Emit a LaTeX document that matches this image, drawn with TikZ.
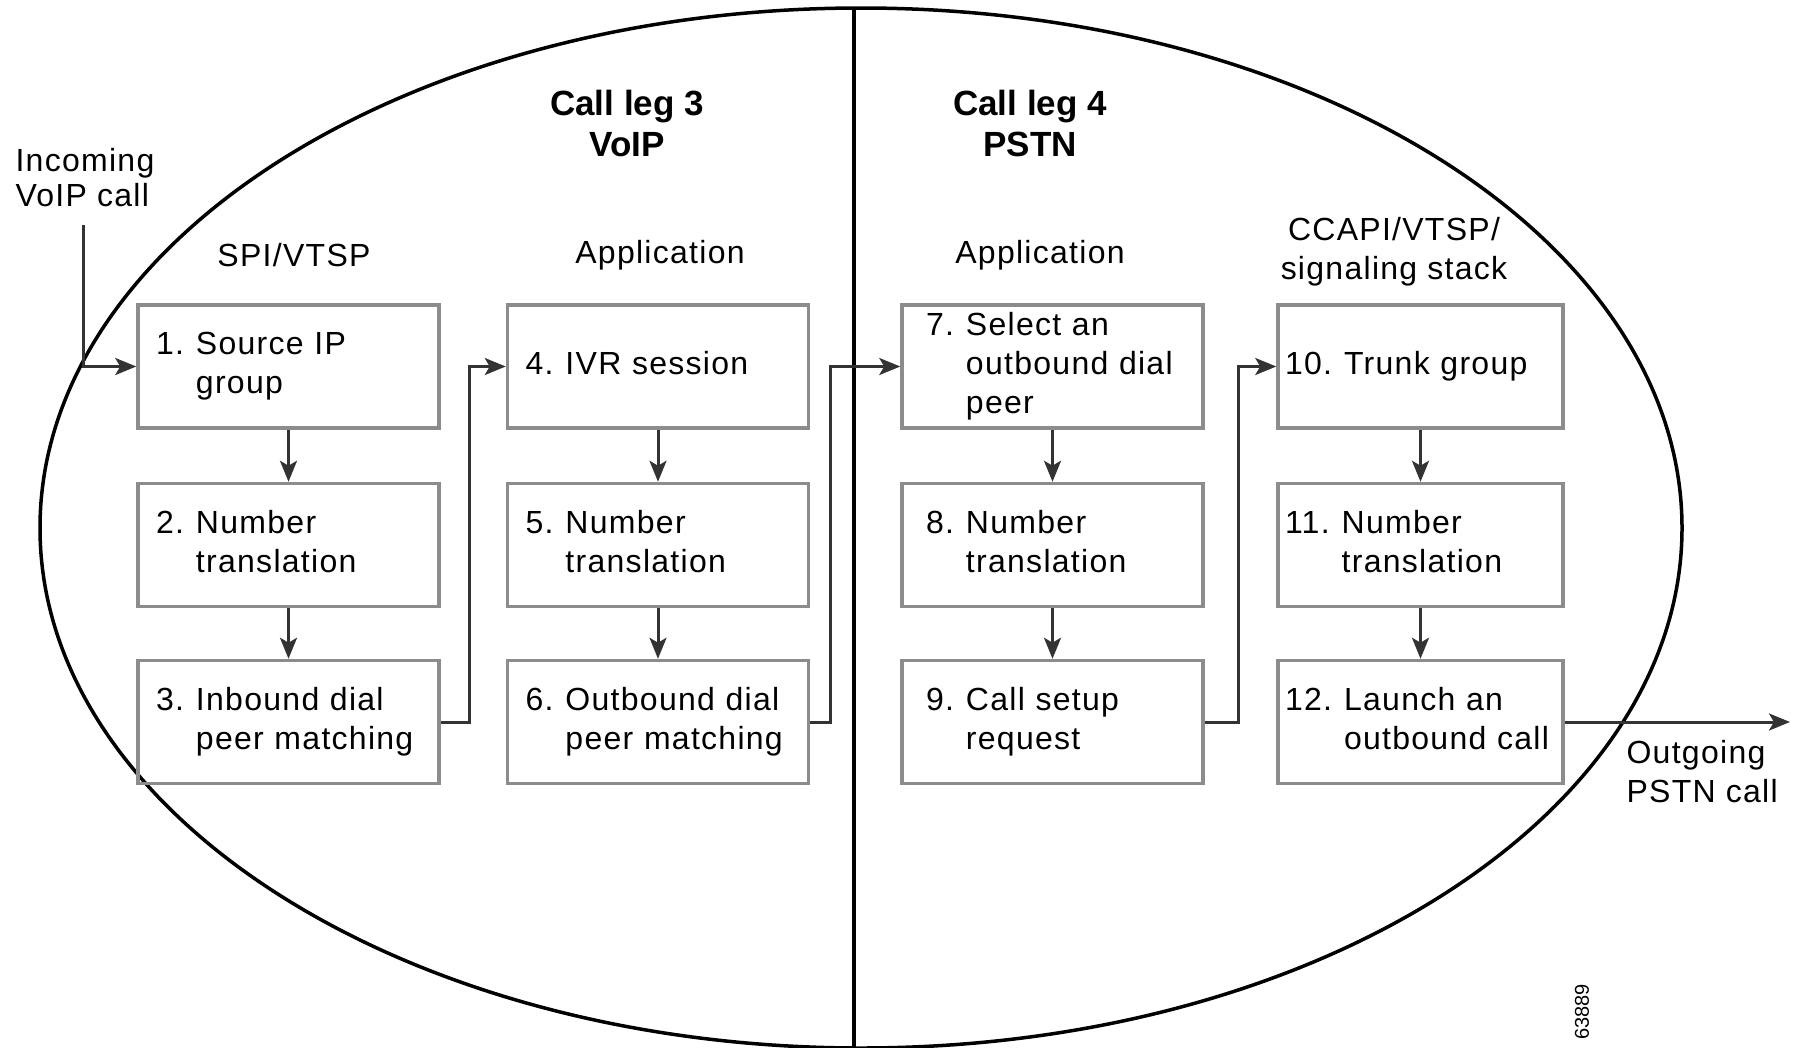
\documentclass[tikz,border=0pt]{standalone}
\usepackage{fontspec}
\setmainfont{Liberation Sans}
\newfontfamily\labelfont[LetterSpace=4]{Liberation Sans}
\usetikzlibrary{arrows.meta}

% number, then the lines of the step text with a hanging indent
\newcommand{\steptext}[2]{\noindent\begin{tabular}{@{}l@{\hspace{12pt}}l@{}}#1 & \begin{tabular}[t]{@{}l@{}}#2\end{tabular}\end{tabular}}

\tikzset{
  stage/.style={draw=black!45, line width=3.5pt, minimum height=123pt, inner ysep=0pt,
    align=left, font=\labelfont\fontsize{32}{39}\selectfont},
  colA/.style={stage, inner xsep=18pt, text width=265pt},
  colB/.style={stage, inner xsep=24pt, text width=253pt},
  colC/.style={stage, inner xsep=7pt, text width=271pt},
  header/.style={align=center, font=\labelfont\fontsize{32}{39}\selectfont},
  leghead/.style={align=center, font=\fontsize{35}{41}\selectfont\bfseries},
  flow/.style={draw=black!80, line width=3pt, -{Stealth[length=21pt,width=17pt,inset=5pt]}}
}

\begin{document}
\begin{tikzpicture}[x=1pt, y=-1pt]
  \useasboundingbox (0,0) rectangle (1799,1047);

  % the two call legs
  \draw[line width=3.5pt] (861,528) ellipse [x radius=821, y radius=520];
  \draw[line width=3.5pt] (854,7) -- (854,1047);

  \node[leghead] (leg3) at (627,123) {Call leg 3\\VoIP};
  \node[leghead] (leg4) at (1030,123) {Call leg 4\\PSTN};

  \node[header] (spi) at (294,255) {SPI/VTSP};
  \node[header] (app3) at (660,255) {Application};
  \node[header] (app4) at (1040,255) {Application};
  \node[header] (ccapi) at (1394,252) {CCAPI/VTSP/\\signaling stack};

  % steps
  \node[colA] (s1) at (288.5,366.5) {\steptext{1.}{Source IP\\group}};
  \node[colA] (s2) at (288.5,545) {\steptext{2.}{Number\\translation}};
  \node[colA] (s3) at (288.5,722) {\steptext{3.}{Inbound dial\\peer matching}};
  \node[colA] (s4) at (658,366.5) {\steptext{4.}{IVR session}};
  \node[colA] (s5) at (658,545) {\steptext{5.}{Number\\translation}};
  \node[colA] (s6) at (658,722) {\steptext{6.}{Outbound dial\\peer matching}};
  \node[colB] (s7) at (1052.5,366.5) {\steptext{7.}{Select an\\outbound dial\\peer}};
  \node[colB] (s8) at (1052.5,545) {\steptext{8.}{Number\\translation}};
  \node[colB] (s9) at (1052.5,722) {\steptext{9.}{Call setup\\request}};
  \node[colC] (s10) at (1420.5,366.5) {\steptext{10.}{Trunk group}};
  \node[colC] (s11) at (1420.5,545) {\steptext{11.}{Number\\translation}};
  \node[colC] (s12) at (1420.5,722) {\steptext{12.}{Launch an\\outbound call}};

  \foreach \a/\b in {s1/s2, s2/s3, s4/s5, s5/s6, s7/s8, s8/s9, s10/s11, s11/s12}
    \draw[flow] (\a) -- (\b);

  \draw[flow] (s3.east) -- ++(29,0) |- (s4);
  \draw[flow] (s6.east) -- ++(20,0) |- (s7);
  \draw[flow] (s9.east) -- ++(34,0) |- (s10);

  % in and out
  \node[header, align=left, anchor=west, font=\labelfont\fontsize{32}{35}\selectfont] (inlabel) at (12,178) {Incoming\\VoIP call};
  \coordinate (incoming) at (83,225);
  \draw[flow] (incoming) |- (s1);

  \node[header, align=left, anchor=west] (outlabel) at (1623,772) {Outgoing\\PSTN call};
  \coordinate (outgoing) at (1790,722);
  \draw[flow] (s12) -- (outgoing);

  \node[rotate=90, font=\fontsize{20}{24}\selectfont] (figid) at (1582,1012) {63889};
\end{tikzpicture}
\end{document}
